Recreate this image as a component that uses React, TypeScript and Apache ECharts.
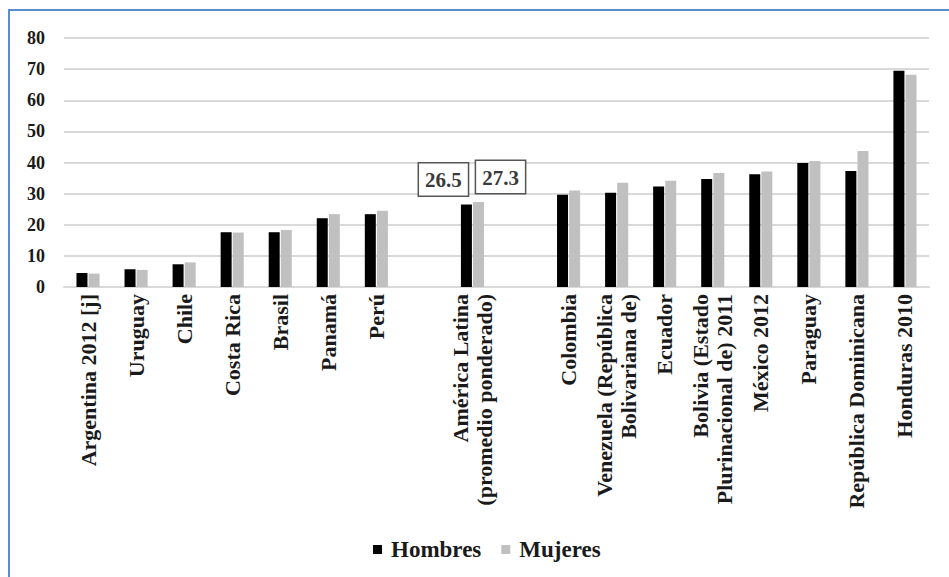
import React, { useEffect, useRef } from "react";
import * as echarts from "echarts";

const categories = [
  "Argentina 2012 [j]",
  "Uruguay",
  "Chile",
  "Costa Rica",
  "Brasil",
  "Panamá",
  "Perú",
  "",
  "América Latina\n(promedio ponderado)",
  " ",
  "Colombia",
  "Venezuela (República\nBolivariana de)",
  "Ecuador",
  "Bolivia (Estado\nPlurinacional de) 2011",
  "México 2012",
  "Paraguay",
  "República Dominicana",
  "Honduras 2010",
];

const hombres: (number | null)[] = [4.5, 5.7, 7.3, 17.6, 17.6, 22.1, 23.4, null, 26.5, null, 29.6, 30.3, 32.3, 34.7, 36.2, 39.8, 37.3, 69.5];
const mujeres: (number | null)[] = [4.3, 5.5, 7.9, 17.5, 18.3, 23.4, 24.5, null, 27.3, null, 31.0, 33.5, 34.1, 36.6, 37.1, 40.5, 43.7, 68.2];

const labelledIndex = 8;
const yTicks = { min: 0, max: 80, interval: 10 };

const FONT = "Liberation Serif";

function buildData(values: (number | null)[], offsetX: number) {
  return values.map((v, i) => {
    if (v === null) return "-";
    if (i === labelledIndex) {
      return {
        value: v,
        label: {
          show: true,
          position: "top",
          distance: 9,
          offset: [offsetX, 0],
          formatter: (p: any) => String(p.value),
          fontFamily: FONT,
          fontWeight: "bold",
          fontSize: 21,
          color: "#3a3a3a",
          borderColor: "#555",
          borderWidth: 1.5,
          backgroundColor: "#fff",
          padding: [6, 6, 5, 6],
        },
      };
    }
    return v;
  });
}

export default function App() {
  const ref = useRef<HTMLDivElement>(null);
  useEffect(() => {
    if (!ref.current) return;
    const chart = echarts.init(ref.current, undefined, { renderer: "svg" });
    chart.setOption({
      animation: false,
      backgroundColor: "#fff",
      textStyle: { fontFamily: FONT },
      graphic: [
        {
          type: "rect",
          shape: { x: 9, y: 10, width: 1000, height: 700 },
          style: { fill: "none", stroke: "#5b8bd0", lineWidth: 2 },
          z: 100,
        },
      ],
      grid: { left: 64, right: 20, top: 38, bottom: 290, containLabel: false },
      legend: {
        left: 368,
        top: 533,
        itemWidth: 9,
        itemHeight: 9,
        itemGap: 20,
        icon: "rect",
        textStyle: {
          fontFamily: FONT,
          fontWeight: "bold",
          fontSize: 23,
          color: "#1a1a1a",
          padding: [0, 0, 0, 4],
        },
        data: ["Hombres", "Mujeres"],
      },
      xAxis: {
        type: "category",
        data: categories,
        axisLine: { lineStyle: { color: "#d9d9d9", width: 2 } },
        axisTick: { show: false },
        axisLabel: {
          rotate: 90,
          interval: 0,
          margin: 7,
          fontFamily: FONT,
          fontWeight: "bold",
          fontSize: 22,
          color: "#1a1a1a",
          lineHeight: 24,
        },
      },
      yAxis: {
        type: "value",
        min: yTicks.min,
        max: yTicks.max,
        interval: yTicks.interval,
        axisLine: { show: false },
        axisTick: { show: false },
        splitLine: { lineStyle: { color: "#d9d9d9", width: 2 } },
        axisLabel: {
          margin: 19,
          fontFamily: FONT,
          fontWeight: "bold",
          fontSize: 18,
          color: "#1a1a1a",
        },
      },
      series: [
        {
          name: "Hombres",
          type: "bar",
          data: buildData(hombres, -23),
          barWidth: 11,
          barGap: "10%",
          itemStyle: { color: "#000" },
        },
        {
          name: "Mujeres",
          type: "bar",
          data: buildData(mujeres, 22),
          barWidth: 11,
          itemStyle: { color: "#c0c0c0" },
        },
      ],
    });
    return () => chart.dispose();
  }, []);
  return (
    <div
      ref={ref}
      style={{ position: "fixed", left: 0, top: 0, width: 949, height: 577 }}
    />
  );
}
